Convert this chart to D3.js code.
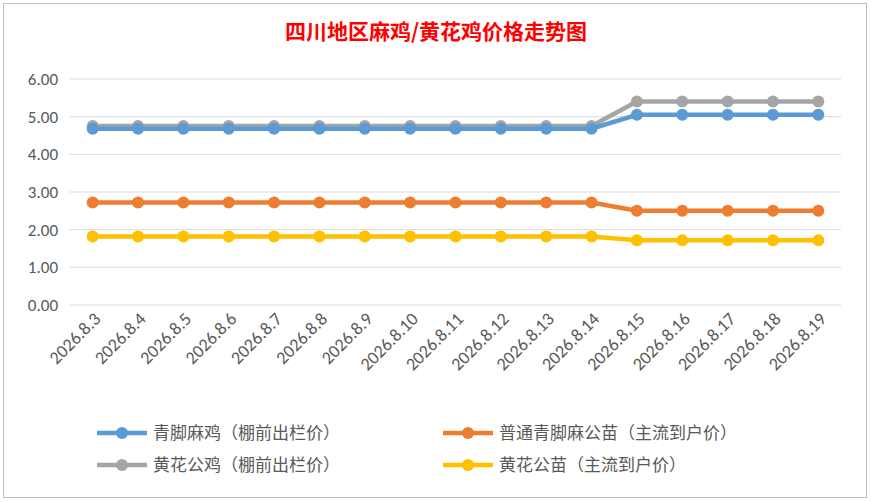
<!DOCTYPE html>
<html><head><meta charset="utf-8">
<script src="https://cdn.jsdelivr.net/npm/d3@7"></script>
<style>body{margin:0;background:#fff}</style>
</head><body>
<svg id="chart" width="871" height="502"></svg>
<script>
var categories=["2026.8.3","2026.8.4","2026.8.5","2026.8.6","2026.8.7","2026.8.8","2026.8.9","2026.8.10","2026.8.11","2026.8.12","2026.8.13","2026.8.14","2026.8.15","2026.8.16","2026.8.17","2026.8.18","2026.8.19"];
var blueVals=[4.68,4.68,4.68,4.68,4.68,4.68,4.68,4.68,4.68,4.68,4.68,4.68,5.05,5.05,5.05,5.05,5.05];
var orangeVals=[2.72,2.72,2.72,2.72,2.72,2.72,2.72,2.72,2.72,2.72,2.72,2.72,2.50,2.50,2.50,2.50,2.50];
var greyVals=[4.75,4.75,4.75,4.75,4.75,4.75,4.75,4.75,4.75,4.75,4.75,4.75,5.40,5.40,5.40,5.40,5.40];
var yellowVals=[1.82,1.82,1.82,1.82,1.82,1.82,1.82,1.82,1.82,1.82,1.82,1.82,1.72,1.72,1.72,1.72,1.72];
var yTicks=[0,1,2,3,4,5,6];

var series=[
 {name:"青脚麻鸡（棚前出栏价）",vals:blueVals,color:"#5b9bd5"},
 {name:"普通青脚麻公苗（主流到户价）",vals:orangeVals,color:"#ed7d31"},
 {name:"黄花公鸡（棚前出栏价）",vals:greyVals,color:"#a5a5a5"},
 {name:"黄花公苗（主流到户价）",vals:yellowVals,color:"#ffc000"}
];

var svg=d3.select("#chart");
var font="'Microsoft YaHei','Noto Sans CJK SC',sans-serif";
var numFont="Calibri,Carlito,'Liberation Sans',sans-serif";
svg.append("rect").attr("x",3.5).attr("y",3.5).attr("width",863).attr("height",494)
 .attr("fill","#fff").attr("stroke","#bfbfbf");

svg.append("text").attr("x",436).attr("y",39).attr("text-anchor","middle")
 .attr("fill","#ff0000").attr("font-weight","bold").attr("font-size",21)
 .attr("font-family",font).text("四川地区麻鸡/黄花鸡价格走势图");

var x=d3.scaleBand().domain(categories).range([70,841]);
var y=d3.scaleLinear().domain([0,6]).range([305,79]);

svg.append("g").selectAll("line").data(yTicks).enter().append("line")
 .attr("x1",70).attr("x2",841).attr("y1",d=>y(d)).attr("y2",d=>y(d))
 .attr("stroke","#d9d9d9");
svg.append("g").selectAll("text").data(yTicks).enter().append("text")
 .attr("x",58).attr("y",d=>y(d)+6).attr("text-anchor","end")
 .attr("font-size",17).attr("fill","#595959").attr("font-family",numFont)
 .text(d=>d.toFixed(2));

svg.append("g").selectAll("text").data(categories).enter().append("text")
 .attr("transform",d=>"translate("+(x(d)+x.bandwidth()/2+9)+",320) rotate(-45)")
 .attr("text-anchor","end").attr("font-size",18).attr("fill","#595959")
 .attr("font-family",numFont).text(d=>d);

var cx=d=>x(d)+x.bandwidth()/2;
var line=d3.line().x((d,i)=>cx(categories[i])).y(d=>y(d));
[2,0,1,3].forEach(function(k){
 var s=series[k];
 var g=svg.append("g");
 g.append("path").attr("d",line(s.vals)).attr("fill","none").attr("stroke",s.color).attr("stroke-width",4.5);
 g.selectAll("circle").data(s.vals).enter().append("circle")
  .attr("cx",(d,i)=>cx(categories[i])).attr("cy",d=>y(d)).attr("r",6).attr("fill",s.color);
});

var legPos=[[97,433],[443,433],[97,465],[443,465]];
series.forEach(function(s,i){
 var p=legPos[i];
 var g=svg.append("g");
 g.append("line").attr("x1",p[0]).attr("x2",p[0]+50).attr("y1",p[1]).attr("y2",p[1]).attr("stroke",s.color).attr("stroke-width",4.5);
 g.append("circle").attr("cx",p[0]+25).attr("cy",p[1]).attr("r",6).attr("fill",s.color);
 g.append("text").attr("x",p[0]+56).attr("y",p[1]+6).attr("font-size",17).attr("fill","#595959")
  .attr("font-family",font).text(s.name);
});
</script>
</body></html>
